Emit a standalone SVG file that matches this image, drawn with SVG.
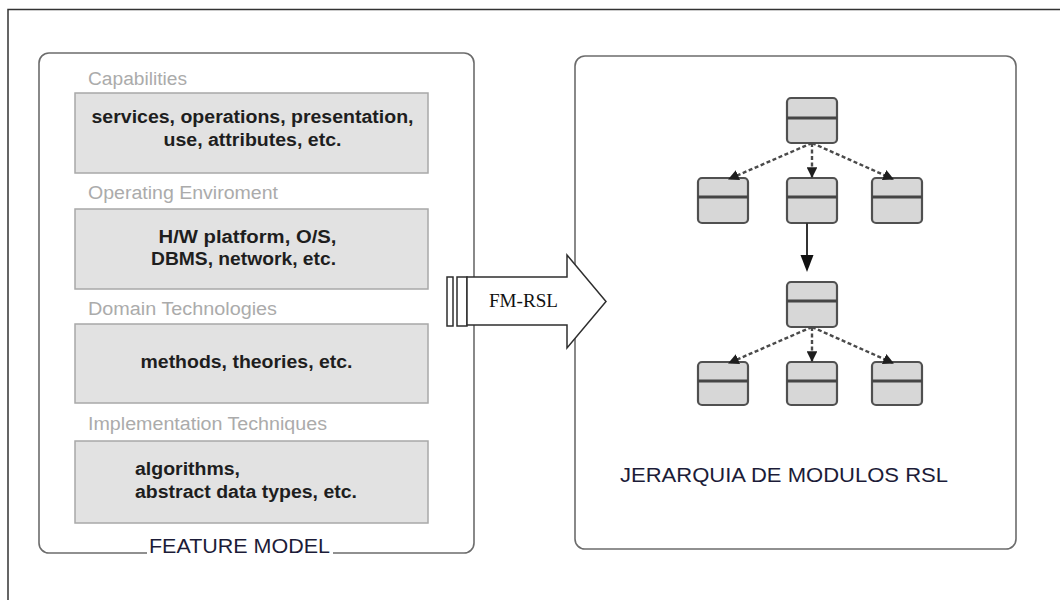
<svg xmlns="http://www.w3.org/2000/svg" width="1060" height="600" viewBox="0 0 1060 600">
  <defs>
    <style>
      .frame { fill: none; stroke: #333; stroke-width: 1.5; }
      .panel { fill: #fff; stroke: #6c6c6c; stroke-width: 1.6; }
      .band { fill: #e2e2e2; stroke: #a8a8a8; stroke-width: 1.5; }
      .cap { font-family: "Liberation Sans", Arial, sans-serif; font-size: 18px; fill: #ababab; }
      .item { font-family: "Liberation Sans", Arial, sans-serif; font-size: 18px; font-weight: bold; fill: #1e1e1e; }
      .title { font-family: "Liberation Sans", Arial, sans-serif; font-size: 20px; fill: #1c1c38; }
      .flow { fill: #fff; stroke: #2e2e2e; stroke-width: 1.5; }
      .flowlbl { font-family: "Liberation Serif", "Times New Roman", serif; font-size: 19px; fill: #111; }
      .mod { fill: #d7d7d7; stroke: #505050; stroke-width: 2.2; }
      .div { stroke: #454545; stroke-width: 2.8; }
      .dash { fill: none; stroke: #4a4a4a; stroke-width: 2.4; stroke-dasharray: 4 2.5; }
      .solid { fill: none; stroke: #333; stroke-width: 2; }
    </style>
    <marker id="tipSmall" viewBox="0 0 10 10" refX="9" refY="5" markerWidth="4.5" markerHeight="4.5" orient="auto" markerUnits="strokeWidth">
      <path d="M0,0 L10,5 L0,10 z" fill="#1e1e1e"/>
    </marker>
  </defs>

  <rect width="1060" height="600" fill="#fff"/>

  <!-- outer frame: top and left edges only -->
  <path class="frame" d="M8,600 V9.5 H1060"/>

  <!-- feature model panel -->
  <g id="feature-model">
    <rect class="panel" x="39" y="53" width="435" height="500" rx="10"/>

    <text class="cap" x="88" y="85" textLength="99" lengthAdjust="spacingAndGlyphs">Capabilities</text>
    <rect class="band" x="75" y="93" width="353" height="80"/>
    <text class="item" x="252.5" y="123" text-anchor="middle" textLength="322" lengthAdjust="spacingAndGlyphs">services, operations, presentation,</text>
    <text class="item" x="252.5" y="146" text-anchor="middle" textLength="178" lengthAdjust="spacingAndGlyphs">use, attributes, etc.</text>

    <text class="cap" x="88" y="199" textLength="190" lengthAdjust="spacingAndGlyphs">Operating Enviroment</text>
    <rect class="band" x="75" y="209" width="353" height="80"/>
    <text class="item" x="247.5" y="243" text-anchor="middle" textLength="178" lengthAdjust="spacingAndGlyphs">H/W platform, O/S,</text>
    <text class="item" x="243.5" y="265" text-anchor="middle" textLength="185" lengthAdjust="spacingAndGlyphs">DBMS, network, etc.</text>

    <text class="cap" x="88" y="315" textLength="189" lengthAdjust="spacingAndGlyphs">Domain Technologies</text>
    <rect class="band" x="75" y="324" width="353" height="79"/>
    <text class="item" x="246.5" y="368" text-anchor="middle" textLength="212" lengthAdjust="spacingAndGlyphs">methods, theories, etc.</text>

    <text class="cap" x="88" y="430" textLength="239" lengthAdjust="spacingAndGlyphs">Implementation Techniques</text>
    <rect class="band" x="75" y="441" width="353" height="82"/>
    <text class="item" x="135" y="475" textLength="105" lengthAdjust="spacingAndGlyphs">algorithms,</text>
    <text class="item" x="135" y="498" textLength="222" lengthAdjust="spacingAndGlyphs">abstract data types, etc.</text>

    <rect x="147" y="535" width="186" height="21" fill="#fff"/>
    <text class="title" x="149" y="553" textLength="181" lengthAdjust="spacingAndGlyphs">FEATURE MODEL</text>
  </g>

  <!-- RSL module hierarchy panel -->
  <g id="rsl-hierarchy">
    <rect class="panel" x="575" y="56" width="441" height="493" rx="10"/>
    <text class="title" x="620" y="482" textLength="328" lengthAdjust="spacingAndGlyphs">JERARQUIA DE MODULOS RSL</text>
  </g>

  <!-- module boxes -->
  <g id="mod-root">
    <rect class="mod" x="787" y="98" width="50" height="45" rx="4"/>
    <line class="div" x1="787" y1="118" x2="837" y2="118"/>
  </g>
  <g id="mod-a1">
    <rect class="mod" x="698" y="178" width="50" height="45" rx="4"/>
    <line class="div" x1="698" y1="197" x2="748" y2="197"/>
  </g>
  <g id="mod-a2">
    <rect class="mod" x="787" y="178" width="50" height="45" rx="4"/>
    <line class="div" x1="787" y1="197" x2="837" y2="197"/>
  </g>
  <g id="mod-a3">
    <rect class="mod" x="872" y="178" width="50" height="45" rx="4"/>
    <line class="div" x1="872" y1="197" x2="922" y2="197"/>
  </g>
  <g id="mod-sub">
    <rect class="mod" x="787" y="282" width="50" height="45" rx="4"/>
    <line class="div" x1="787" y1="301" x2="837" y2="301"/>
  </g>
  <g id="mod-b1">
    <rect class="mod" x="698" y="362" width="50" height="43" rx="4"/>
    <line class="div" x1="698" y1="381" x2="748" y2="381"/>
  </g>
  <g id="mod-b2">
    <rect class="mod" x="787" y="362" width="50" height="43" rx="4"/>
    <line class="div" x1="787" y1="381" x2="837" y2="381"/>
  </g>
  <g id="mod-b3">
    <rect class="mod" x="872" y="362" width="50" height="43" rx="4"/>
    <line class="div" x1="872" y1="381" x2="922" y2="381"/>
  </g>

  <!-- connectors -->
  <g id="connectors">
    <line class="dash" x1="812" y1="143" x2="729" y2="179" marker-end="url(#tipSmall)"/>
    <line class="dash" x1="812" y1="143" x2="812" y2="177" marker-end="url(#tipSmall)"/>
    <line class="dash" x1="812" y1="143" x2="893" y2="179" marker-end="url(#tipSmall)"/>

    <line class="solid" x1="807" y1="223" x2="807" y2="257"/>
    <path d="M800.5,255 L813.5,255 L807,272 z" fill="#111"/>

    <line class="dash" x1="812" y1="327" x2="729" y2="363" marker-end="url(#tipSmall)"/>
    <line class="dash" x1="812" y1="327" x2="812" y2="361" marker-end="url(#tipSmall)"/>
    <line class="dash" x1="812" y1="327" x2="893" y2="363" marker-end="url(#tipSmall)"/>

    <!-- FM-RSL transformation arrow -->
    <g id="fm-rsl">
      <rect class="flow" x="447" y="277" width="6" height="49"/>
      <rect class="flow" x="457" y="277" width="10" height="49"/>
      <path class="flow" d="M467,277 H567 V255 L606,301.5 L567,348 V325 H467 z"/>
      <text class="flowlbl" x="523.5" y="307" text-anchor="middle" textLength="69" lengthAdjust="spacingAndGlyphs">FM-RSL</text>
    </g>
  </g>
</svg>
